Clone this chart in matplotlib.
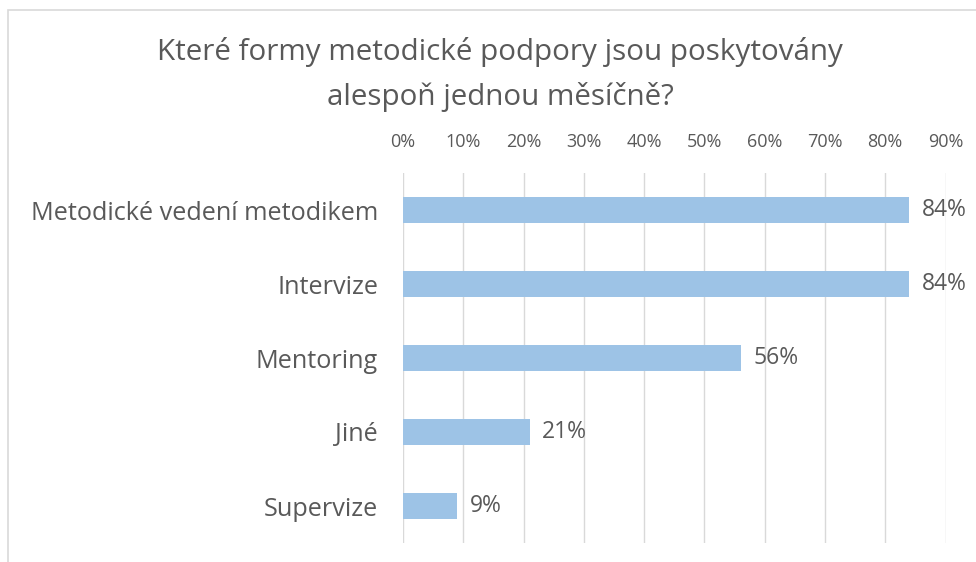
import matplotlib
matplotlib.use("Agg")
import matplotlib.pyplot as plt
from matplotlib.patches import Rectangle
from matplotlib.ticker import FuncFormatter, MultipleLocator

plt.rcParams['font.family'] = ['Open Sans', 'DejaVu Sans']

categories = ["Metodické vedení metodikem", "Intervize", "Mentoring", "Jiné", "Supervize"]
values = [0.84, 0.84, 0.56, 0.21, 0.09]
value_labels = ["84%", "84%", "56%", "21%", "9%"]
title_lines = ["Které formy metodické podpory jsou poskytovány", "alespoň jednou měsíčně?"]

text_color = "#595959"
bar_color = "#9DC3E6"
grid_color = "#D9D9D9"

fig = plt.figure(figsize=(9.76, 5.62), dpi=100)
fig.patches.append(Rectangle((8/976, -0.1), 1.2, 1.1 - 10/562, transform=fig.transFigure,
                             fill=False, edgecolor="#D9D9D9", linewidth=1.2))

ax = fig.add_axes([403/976, 1 - 543/562, 542.5/976, 370/562])
ypos = list(range(len(categories)))
ax.barh(ypos, values, height=0.35, color=bar_color, zorder=3)
ax.set_xlim(0, 0.9)
ax.set_ylim(len(categories) - 0.5, -0.5)
ax.set_yticks(ypos)
ax.set_yticklabels(categories, fontsize=18.2, color=text_color)
ax.xaxis.set_major_locator(MultipleLocator(0.1))
ax.xaxis.set_major_formatter(FuncFormatter(lambda v, p: f"{round(v*100)}%"))
ax.xaxis.tick_top()
ax.tick_params(axis='x', length=0, pad=16, labelsize=13, labelcolor=text_color)
ax.tick_params(axis='y', length=0, pad=18)
for s in ax.spines.values():
    s.set_visible(False)
ax.grid(axis='x', color=grid_color, linewidth=1, zorder=0)
ax.set_axisbelow(True)

for y, v, lab in zip(ypos, values, value_labels):
    ax.annotate(lab, (v, y), xytext=(9, 0), textcoords='offset points',
                va='center', ha='left', fontsize=16.5, color=text_color)

fig.text(500/976, 1 - 52/562, title_lines[0], ha='center', va='center', fontsize=21.3, color=text_color)
fig.text(500/976, 1 - 97/562, title_lines[1], ha='center', va='center', fontsize=21.3, color=text_color)

fig.savefig("out.png", dpi=100)
